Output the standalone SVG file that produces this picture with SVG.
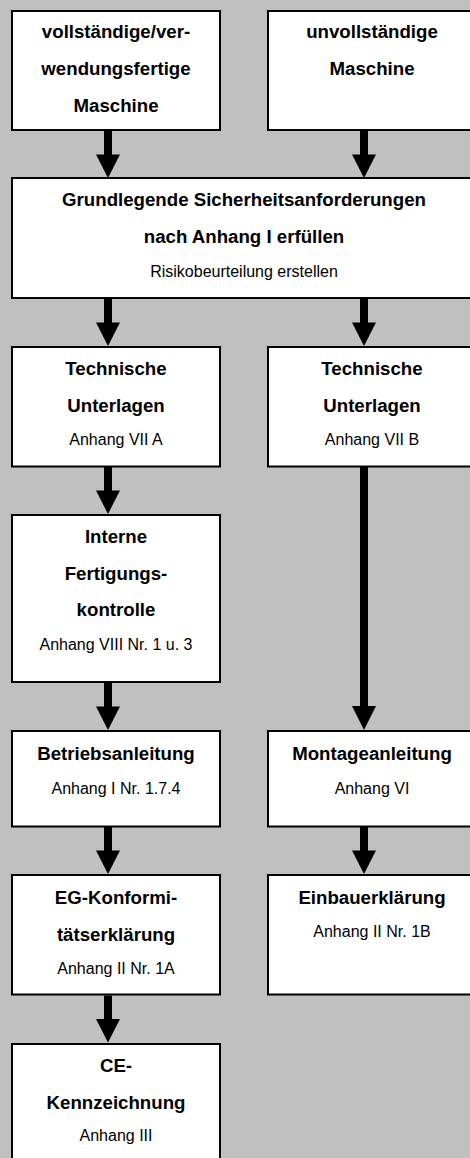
<svg xmlns="http://www.w3.org/2000/svg" width="470" height="1158" viewBox="0 0 470 1158">
<style>
.box{fill:#fff;stroke:#000;stroke-width:2}
.b{font-family:"Liberation Sans",Arial,sans-serif;font-weight:bold;font-size:18.67px;fill:#000;text-anchor:middle}
.s{font-family:"Liberation Sans",Arial,sans-serif;font-size:16px;fill:#000;text-anchor:middle}
.shaft{fill:#000}
</style>
<defs>
<path id="arr" d="M-4,0 H4 V23.5 H12 L0,47 L-12,23.5 H-4 Z" fill="#000"/>
</defs>
<rect width="470" height="1158" fill="#c0c0c0"/>
<g id="connectors">
<use href="#arr" x="108" y="131"/>
<use href="#arr" x="364" y="131"/>
<use href="#arr" x="108" y="299"/>
<use href="#arr" x="364" y="299"/>
<use href="#arr" x="108" y="467"/>
<path d="M360,467 H368 V706 H376 L364,730 L352,706 H360 Z" fill="#000"/>
<use href="#arr" x="108" y="683"/>
<use href="#arr" x="108" y="827"/>
<use href="#arr" x="364" y="827"/>
<use href="#arr" x="108" y="995.5"/>
</g>
<g id="n-vollstaendig">
<rect class="box" x="12" y="11" width="208" height="119"/>
<text class="b" x="116" y="37.5">vollständige/ver-</text>
<text class="b" x="116" y="74.5">wendungsfertige</text>
<text class="b" x="116" y="111.5">Maschine</text>
</g>
<g id="n-unvollstaendig">
<rect class="box" x="268" y="11" width="208" height="119"/>
<text class="b" x="372" y="37.5">unvollständige</text>
<text class="b" x="372" y="74.5">Maschine</text>
</g>
<g id="n-grundlegend">
<rect class="box" x="12" y="178" width="464" height="120"/>
<text class="b" x="244" y="206">Grundlegende Sicherheitsanforderungen</text>
<text class="b" x="244" y="243">nach Anhang I erfüllen</text>
<text class="s" x="244" y="276.5">Risikobeurteilung erstellen</text>
</g>
<g id="n-techA">
<rect class="box" x="12" y="347" width="208" height="119.5"/>
<text class="b" x="116" y="375">Technische</text>
<text class="b" x="116" y="411.5">Unterlagen</text>
<text class="s" x="116" y="445">Anhang VII A</text>
</g>
<g id="n-techB">
<rect class="box" x="268" y="347" width="208" height="119.5"/>
<text class="b" x="372" y="375">Technische</text>
<text class="b" x="372" y="411.5">Unterlagen</text>
<text class="s" x="372" y="445">Anhang VII B</text>
</g>
<g id="n-interne">
<rect class="box" x="12" y="515" width="208" height="167"/>
<text class="b" x="116" y="542.5">Interne</text>
<text class="b" x="116" y="579.5">Fertigungs-</text>
<text class="b" x="116" y="616">kontrolle</text>
<text class="s" x="116" y="649.5">Anhang VIII Nr. 1 u. 3</text>
</g>
<g id="n-betrieb">
<rect class="box" x="12" y="731" width="208" height="95.5"/>
<text class="b" x="116" y="760">Betriebsanleitung</text>
<text class="s" x="116" y="793.5">Anhang I Nr. 1.7.4</text>
</g>
<g id="n-montage">
<rect class="box" x="268" y="731" width="208" height="95.5"/>
<text class="b" x="372" y="760">Montageanleitung</text>
<text class="s" x="372" y="793.5">Anhang VI</text>
</g>
<g id="n-eg">
<rect class="box" x="12" y="875" width="208" height="119.5"/>
<text class="b" x="116" y="903.5">EG-Konformi-</text>
<text class="b" x="116" y="940.5">tätserklärung</text>
<text class="s" x="116" y="973.5">Anhang II Nr. 1A</text>
</g>
<g id="n-einbau">
<rect class="box" x="268" y="875" width="208" height="119.5"/>
<text class="b" x="372" y="903.5">Einbauerklärung</text>
<text class="s" x="372" y="937">Anhang II Nr. 1B</text>
</g>
<g id="n-ce">
<rect class="box" x="12" y="1044" width="208" height="130"/>
<text class="b" x="116" y="1072">CE-</text>
<text class="b" x="116" y="1108.5">Kennzeichnung</text>
<text class="s" x="116" y="1141">Anhang III</text>
</g>
</svg>
